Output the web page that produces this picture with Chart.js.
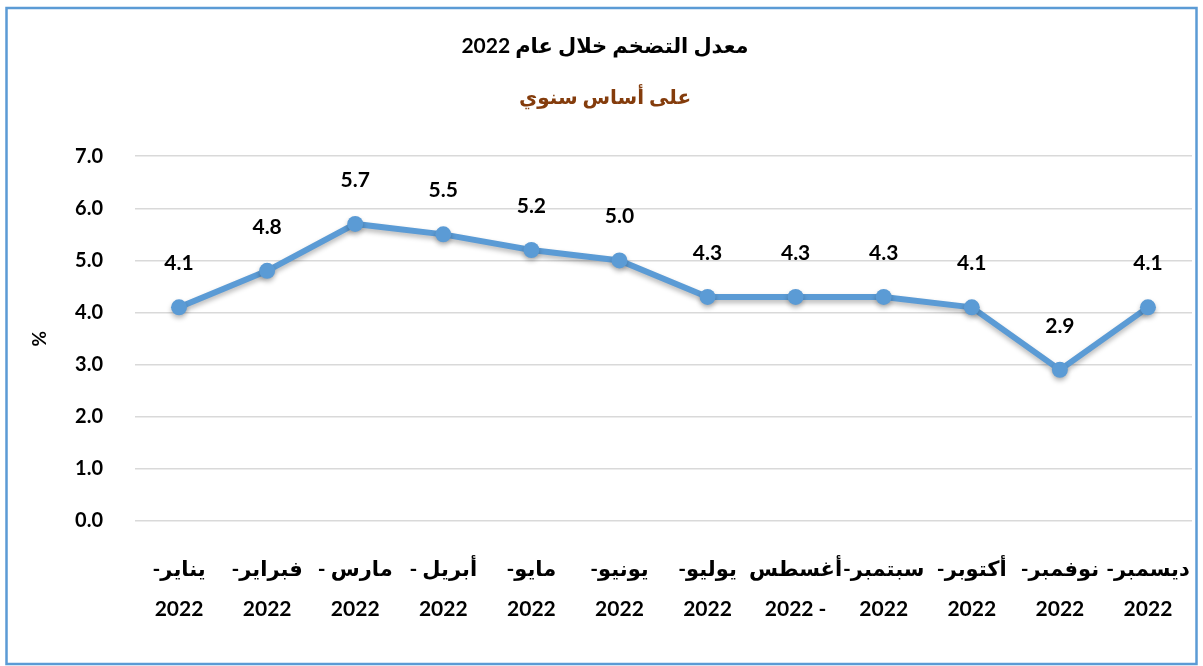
<!DOCTYPE html>
<html lang="ar">
<head>
<meta charset="utf-8">
<script src="https://cdn.jsdelivr.net/npm/chart.js@4"></script>
<style>
  html, body { margin: 0; padding: 0; background: #fff; }
  #wrap { position: relative; width: 1203px; height: 666px; }
  canvas { direction: rtl; }
</style>
</head>
<body>
<div id="wrap"><canvas id="myChart" width="1203" height="666"></canvas></div>
<script>
// months (first line of each tick) and the year line under it
var months = ["يناير-", "فبراير-", "مارس -", "أبريل -", "مايو-", "يونيو-", "يوليو-", "أغسطس", "سبتمبر-", "أكتوبر-", "نوفمبر-", "ديسمبر-"];
var years = ["2022", "2022", "2022", "2022", "2022", "2022", "2022", "- 2022", "2022", "2022", "2022", "2022"];
var inflation = [4.1, 4.8, 5.7, 5.5, 5.2, 5.0, 4.3, 4.3, 4.3, 4.1, 2.9, 4.1];
var yTicks = [0, 1, 2, 3, 4, 5, 6, 7];

var titleText = "معدل التضخم خلال عام 2022";
var subText = "على أساس سنوي";
var fontFam = "Lato, 'DejaVu Sans', sans-serif";

var labels = months.map(function (m, i) { return [m, years[i]]; });

// value labels above each point
const valueLabels = {
	id: "valueLabels",
	afterDatasetsDraw(chart) {
		const ctx = chart.ctx;
		const meta = chart.getDatasetMeta(0);
		ctx.save();
		ctx.font = "bold 21px " + fontFam;
		ctx.fillStyle = "#000";
		ctx.textAlign = "center";
		ctx.textBaseline = "middle";
		meta.data.forEach(function (pt, i) {
			ctx.fillText(inflation[i].toFixed(1), pt.x, pt.y - 44);
		});
		ctx.restore();
	},
};

// soft shadow under the line
const lineShadow = {
	id: "lineShadow",
	beforeDatasetsDraw(chart) {
		const ctx = chart.ctx;
		ctx.save();
		ctx.shadowColor = "rgba(0,0,0,0.28)";
		ctx.shadowBlur = 5;
		ctx.shadowOffsetY = 3;
	},
	afterDatasetsDraw(chart) {
		chart.ctx.restore();
	},
};

// outer frame
const frame = {
	id: "frame",
	afterDraw(chart) {
		const ctx = chart.ctx;
		ctx.save();
		ctx.strokeStyle = "#5B9BD5";
		ctx.lineWidth = 2.5;
		ctx.strokeRect(6.5, 8, 1190, 656);
		ctx.restore();
	},
};

const ctx = document.getElementById("myChart").getContext("2d");
const myChart = new Chart(ctx, {
	type: "line",
	data: {
		labels: labels,
		datasets: [
			{
				label: "%",
				data: inflation,
				borderColor: "#5B9BD5",
				backgroundColor: "#5B9BD5",
				borderWidth: 6,
				pointRadius: 8,
				pointBorderWidth: 0,
				pointBackgroundColor: "#5B9BD5",
				tension: 0,
			},
		],
	},
	plugins: [lineShadow, valueLabels, frame],
	options: {
		responsive: false,
		animation: false,
		layout: { padding: { left: 18, right: 11, top: 0, bottom: 0 } },
		plugins: {
			legend: { display: false },
			tooltip: { enabled: false },
			title: {
				display: true,
				text: titleText,
				color: "#000",
				font: { family: fontFam, size: 21, weight: "bold", lineHeight: 1.2 },
				padding: { top: 34, bottom: 0 },
			},
			subtitle: {
				display: true,
				text: subText,
				color: "#843C0C",
				font: { family: fontFam, size: 20, weight: "bold", lineHeight: 1.2 },
				padding: { top: 26, bottom: 47 },
			},
		},
		scales: {
			x: {
				offset: true,
				grid: { display: false, drawTicks: false },
				border: { display: false },
				ticks: {
					color: "#000",
					padding: 28,
					maxRotation: 0,
					autoSkip: false,
					font: { family: fontFam, size: 21, weight: "bold", lineHeight: 1.9 },
				},
				afterFit: function (scale) {
					scale.height = 145;
					scale.paddingLeft = 0;
					scale.paddingRight = 0;
				},
			},
			y: {
				min: 0,
				max: 7,
				afterBuildTicks: function (scale) {
					scale.ticks = yTicks.map(function (v) { return { value: v }; });
				},
				grid: { color: "#d9d9d9", lineWidth: 1.5, drawTicks: false },
				border: { display: false },
				ticks: {
					color: "#000",
					padding: 32,
					font: { family: fontFam, size: 20, weight: "bold" },
					callback: function (v) { return Number(v).toFixed(1); },
				},
				title: {
					display: true,
					text: "%",
					color: "#000",
					font: { family: fontFam, size: 19, weight: "bold" },
					padding: { top: 10, bottom: 0 },
				},
				afterFit: function (scale) { scale.width = 117; },
			},
		},
	},
});
</script>
</body>
</html>
